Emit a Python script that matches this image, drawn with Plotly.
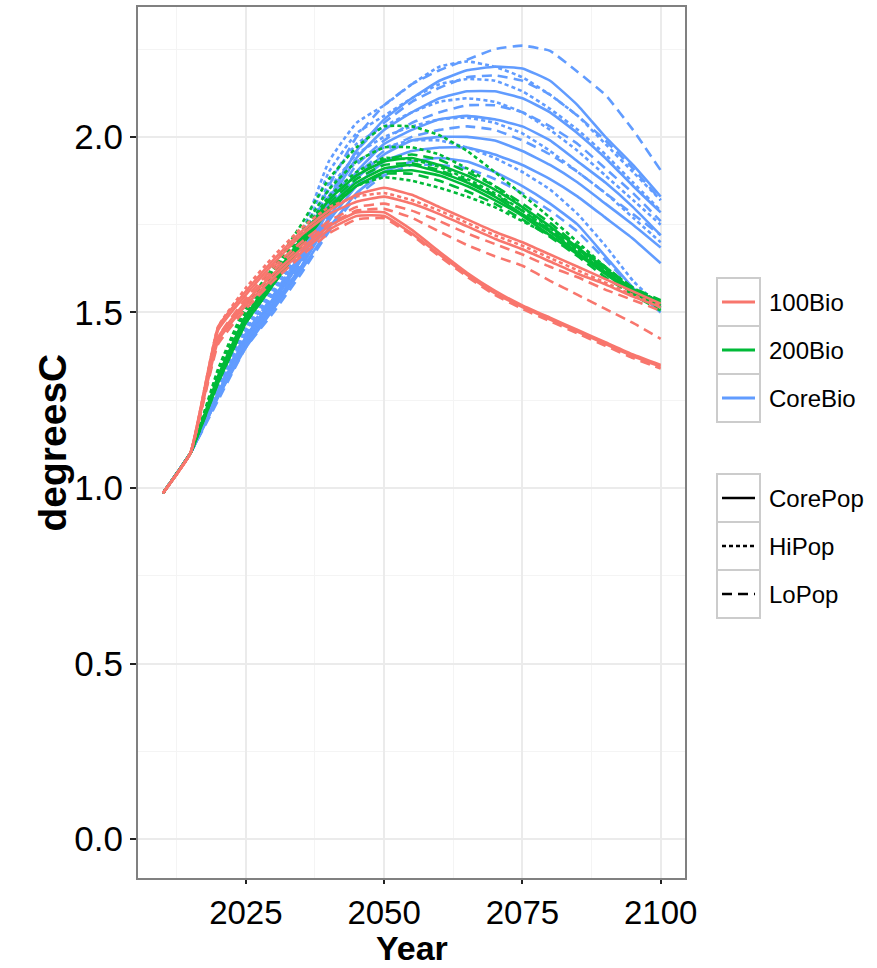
import plotly.graph_objects as go

# ---------------- data ----------------
YEARS = [2010, 2015, 2020, 2025, 2030, 2035, 2040, 2045, 2050, 2055,
         2060, 2065, 2070, 2075, 2080, 2085, 2090, 2095, 2100]

# 100Bio
R_core_a = [0.985, 1.10, 1.42, 1.52, 1.60, 1.67, 1.735, 1.775, 1.775, 1.725, 1.665, 1.607, 1.555, 1.515, 1.48, 1.445, 1.41, 1.375, 1.345]
R_core_b = [0.985, 1.10, 1.43, 1.53, 1.61, 1.68, 1.745, 1.785, 1.785, 1.735, 1.673, 1.613, 1.562, 1.52, 1.485, 1.45, 1.415, 1.38, 1.35]
R_lo_a   = [0.985, 1.10, 1.41, 1.51, 1.59, 1.66, 1.725, 1.765, 1.768, 1.72, 1.66, 1.602, 1.55, 1.51, 1.475, 1.44, 1.405, 1.37, 1.34]
R_core_c = [0.985, 1.10, 1.46, 1.56, 1.65, 1.73, 1.79, 1.835, 1.855, 1.835, 1.80, 1.765, 1.73, 1.70, 1.665, 1.63, 1.595, 1.56, 1.525]
R_core_d = [0.985, 1.10, 1.45, 1.55, 1.64, 1.72, 1.78, 1.815, 1.83, 1.81, 1.78, 1.745, 1.71, 1.68, 1.645, 1.61, 1.58, 1.545, 1.515]
R_hi_a   = [0.985, 1.10, 1.46, 1.57, 1.66, 1.74, 1.80, 1.83, 1.84, 1.82, 1.79, 1.755, 1.72, 1.69, 1.655, 1.62, 1.585, 1.55, 1.52]
R_lo_b   = [0.985, 1.10, 1.43, 1.54, 1.63, 1.70, 1.76, 1.80, 1.81, 1.79, 1.76, 1.725, 1.695, 1.665, 1.63, 1.60, 1.565, 1.535, 1.505]
R_lo_c   = [0.985, 1.10, 1.42, 1.53, 1.62, 1.69, 1.75, 1.79, 1.795, 1.77, 1.73, 1.692, 1.66, 1.633, 1.59, 1.55, 1.51, 1.47, 1.425]

# 200Bio
G_hi_a   = [0.985, 1.10, 1.34, 1.52, 1.63, 1.75, 1.88, 1.97, 2.03, 2.03, 2.005, 1.96, 1.90, 1.835, 1.77, 1.70, 1.63, 1.57, 1.53]
G_hi_b   = [0.985, 1.10, 1.33, 1.51, 1.62, 1.73, 1.85, 1.93, 1.97, 1.97, 1.95, 1.91, 1.86, 1.80, 1.74, 1.68, 1.62, 1.565, 1.52]
G_hi_c   = [0.985, 1.10, 1.32, 1.49, 1.60, 1.71, 1.80, 1.86, 1.885, 1.875, 1.855, 1.83, 1.80, 1.76, 1.72, 1.67, 1.61, 1.56, 1.51]
G_hi_d   = [0.985, 1.10, 1.33, 1.50, 1.61, 1.72, 1.83, 1.90, 1.94, 1.935, 1.915, 1.88, 1.84, 1.79, 1.73, 1.675, 1.615, 1.56, 1.515]
G_core_a = [0.985, 1.10, 1.31, 1.48, 1.59, 1.70, 1.80, 1.87, 1.91, 1.92, 1.90, 1.87, 1.83, 1.78, 1.73, 1.67, 1.615, 1.56, 1.525]
G_core_b = [0.985, 1.10, 1.30, 1.47, 1.58, 1.69, 1.79, 1.86, 1.90, 1.905, 1.89, 1.86, 1.82, 1.775, 1.72, 1.665, 1.61, 1.555, 1.52]
G_core_c = [0.985, 1.10, 1.32, 1.49, 1.60, 1.71, 1.82, 1.89, 1.93, 1.94, 1.92, 1.89, 1.85, 1.80, 1.745, 1.685, 1.625, 1.565, 1.53]
G_lo_a   = [0.985, 1.10, 1.30, 1.47, 1.58, 1.69, 1.79, 1.86, 1.895, 1.895, 1.875, 1.845, 1.81, 1.765, 1.715, 1.66, 1.60, 1.55, 1.505]
G_lo_b   = [0.985, 1.10, 1.31, 1.48, 1.59, 1.70, 1.81, 1.88, 1.92, 1.925, 1.905, 1.875, 1.835, 1.79, 1.735, 1.68, 1.62, 1.565, 1.525]
G_lo_c   = [0.985, 1.10, 1.31, 1.49, 1.60, 1.71, 1.82, 1.89, 1.935, 1.95, 1.935, 1.90, 1.86, 1.81, 1.755, 1.69, 1.63, 1.57, 1.535]

# CoreBio
B_lo_a   = [0.985, 1.10, 1.28, 1.44, 1.55, 1.67, 1.86, 2.00, 2.09, 2.15, 2.19, 2.22, 2.25, 2.26, 2.245, 2.185, 2.12, 2.02, 1.905]
B_core_a = [0.985, 1.10, 1.27, 1.43, 1.54, 1.66, 1.82, 1.96, 2.05, 2.11, 2.16, 2.19, 2.20, 2.195, 2.16, 2.09, 2.00, 1.92, 1.83]
B_hi_a   = [0.985, 1.10, 1.30, 1.47, 1.58, 1.72, 1.93, 2.04, 2.09, 2.15, 2.20, 2.215, 2.20, 2.17, 2.12, 2.06, 1.98, 1.90, 1.82]
B_hi_b   = [0.985, 1.10, 1.30, 1.46, 1.57, 1.70, 1.90, 2.01, 2.06, 2.11, 2.15, 2.165, 2.16, 2.13, 2.08, 2.02, 1.95, 1.87, 1.79]
B_hi_c   = [0.985, 1.10, 1.29, 1.45, 1.56, 1.68, 1.87, 1.98, 2.03, 2.07, 2.10, 2.11, 2.10, 2.07, 2.02, 1.96, 1.89, 1.82, 1.75]
B_hi_d   = [0.985, 1.10, 1.29, 1.45, 1.56, 1.68, 1.85, 1.95, 2.00, 2.03, 2.05, 2.055, 2.04, 2.01, 1.96, 1.90, 1.84, 1.77, 1.70]
B_hi_e   = [0.985, 1.10, 1.28, 1.44, 1.55, 1.67, 1.83, 1.93, 1.97, 1.99, 1.99, 1.97, 1.94, 1.90, 1.85, 1.78, 1.69, 1.59, 1.515]
B_lo_b   = [0.985, 1.10, 1.27, 1.43, 1.54, 1.66, 1.83, 1.96, 2.04, 2.10, 2.14, 2.17, 2.175, 2.16, 2.12, 2.06, 1.99, 1.91, 1.82]
B_lo_c   = [0.985, 1.10, 1.27, 1.42, 1.53, 1.65, 1.80, 1.92, 1.99, 2.04, 2.07, 2.09, 2.09, 2.07, 2.03, 1.98, 1.91, 1.84, 1.76]
B_lo_d   = [0.985, 1.10, 1.26, 1.42, 1.52, 1.64, 1.78, 1.89, 1.96, 2.00, 2.02, 2.03, 2.02, 1.99, 1.95, 1.90, 1.84, 1.78, 1.72]
B_lo_e   = [0.985, 1.10, 1.25, 1.40, 1.50, 1.61, 1.73, 1.83, 1.89, 1.92, 1.92, 1.91, 1.88, 1.84, 1.79, 1.73, 1.65, 1.57, 1.51]
B_core_b = [0.985, 1.10, 1.27, 1.43, 1.54, 1.66, 1.81, 1.94, 2.02, 2.07, 2.11, 2.13, 2.13, 2.11, 2.07, 2.01, 1.94, 1.86, 1.785]
B_core_c = [0.985, 1.10, 1.27, 1.42, 1.53, 1.65, 1.79, 1.90, 1.98, 2.02, 2.05, 2.06, 2.05, 2.03, 1.99, 1.93, 1.87, 1.80, 1.72]
B_core_d = [0.985, 1.10, 1.26, 1.41, 1.52, 1.63, 1.77, 1.88, 1.95, 1.99, 2.00, 2.00, 1.99, 1.96, 1.92, 1.87, 1.81, 1.75, 1.685]
B_core_e = [0.985, 1.10, 1.26, 1.41, 1.52, 1.63, 1.76, 1.86, 1.93, 1.96, 1.97, 1.97, 1.95, 1.92, 1.88, 1.83, 1.77, 1.71, 1.64]
B_core_f = [0.985, 1.10, 1.26, 1.40, 1.51, 1.62, 1.74, 1.84, 1.90, 1.93, 1.94, 1.93, 1.90, 1.86, 1.81, 1.75, 1.66, 1.57, 1.50]

BIO_LABELS = ["100Bio", "200Bio", "CoreBio"]
POP_LABELS = ["CorePop", "HiPop", "LoPop"]
Y_TICKS = [0.0, 0.5, 1.0, 1.5, 2.0]
X_TICKS = [2025, 2050, 2075, 2100]

SERIES = [
    ("CoreBio", "CorePop", B_core_a), ("CoreBio", "CorePop", B_core_b), ("CoreBio", "CorePop", B_core_c),
    ("CoreBio", "CorePop", B_core_d), ("CoreBio", "CorePop", B_core_e), ("CoreBio", "CorePop", B_core_f),
    ("CoreBio", "HiPop", B_hi_a), ("CoreBio", "HiPop", B_hi_b), ("CoreBio", "HiPop", B_hi_c),
    ("CoreBio", "HiPop", B_hi_d), ("CoreBio", "HiPop", B_hi_e),
    ("CoreBio", "LoPop", B_lo_a), ("CoreBio", "LoPop", B_lo_b), ("CoreBio", "LoPop", B_lo_c),
    ("CoreBio", "LoPop", B_lo_d), ("CoreBio", "LoPop", B_lo_e),
    ("200Bio", "CorePop", G_core_a), ("200Bio", "CorePop", G_core_b), ("200Bio", "CorePop", G_core_c),
    ("200Bio", "HiPop", G_hi_a), ("200Bio", "HiPop", G_hi_b), ("200Bio", "HiPop", G_hi_c), ("200Bio", "HiPop", G_hi_d),
    ("200Bio", "LoPop", G_lo_a), ("200Bio", "LoPop", G_lo_b), ("200Bio", "LoPop", G_lo_c),
    ("100Bio", "CorePop", R_core_a), ("100Bio", "CorePop", R_core_b), ("100Bio", "CorePop", R_core_c),
    ("100Bio", "CorePop", R_core_d), ("100Bio", "HiPop", R_hi_a),
    ("100Bio", "LoPop", R_lo_a), ("100Bio", "LoPop", R_lo_b), ("100Bio", "LoPop", R_lo_c),
]

# ---------------- styles ----------------
COLORS = {"100Bio": "#F8766D", "200Bio": "#00BA38", "CoreBio": "#619CFF"}
DASHES = {"CorePop": "solid", "HiPop": "4px,3px", "LoPop": "10px,6px"}
FONT = "Liberation Sans, Arial, sans-serif"

W, H = 877, 968
L, R, T, B = 138, 685, 7, 878  # panel pixel edges


def pxx(px):
    return (px - L) / (R - L)


def pxy(py):
    return (B - py) / (B - T)


fig = go.Figure()
for bio, pop, vals in SERIES:
    fig.add_trace(go.Scatter(
        x=YEARS, y=vals, mode="lines", showlegend=False, hoverinfo="skip",
        line=dict(color=COLORS[bio], width=2.6, dash=DASHES[pop], shape="spline", smoothing=0.35),
    ))

shapes = []
annotations = []

KEY_X0, KEY_X1, KEY_H = 717, 760, 48
# legend 1 (colour)
for i, lab in enumerate(BIO_LABELS):
    top = 278 + i * KEY_H
    cy = top + KEY_H / 2
    shapes.append(dict(type="rect", xref="paper", yref="paper",
                       x0=pxx(KEY_X0), x1=pxx(KEY_X1), y0=pxy(top + KEY_H), y1=pxy(top),
                       line=dict(color="#cccccc", width=2), fillcolor="white", layer="above"))
    shapes.append(dict(type="line", xref="paper", yref="paper",
                       x0=pxx(722), x1=pxx(755), y0=pxy(cy), y1=pxy(cy),
                       line=dict(color=COLORS[lab], width=3), layer="above"))
    annotations.append(dict(xref="paper", yref="paper", x=pxx(767), y=pxy(cy),
                            text=lab, showarrow=False, xanchor="left", yanchor="middle",
                            font=dict(family=FONT, size=24, color="black")))

# legend 2 (linetype)
for i, lab in enumerate(POP_LABELS):
    top = 474 + i * KEY_H
    cy = top + KEY_H / 2
    shapes.append(dict(type="rect", xref="paper", yref="paper",
                       x0=pxx(KEY_X0), x1=pxx(KEY_X1), y0=pxy(top + KEY_H), y1=pxy(top),
                       line=dict(color="#cccccc", width=2), fillcolor="white", layer="above"))
    shapes.append(dict(type="line", xref="paper", yref="paper",
                       x0=pxx(722), x1=pxx(755), y0=pxy(cy), y1=pxy(cy),
                       line=dict(color="black", width=2.6, dash=DASHES[lab]), layer="above"))
    annotations.append(dict(xref="paper", yref="paper", x=pxx(767), y=pxy(cy),
                            text=lab, showarrow=False, xanchor="left", yanchor="middle",
                            font=dict(family=FONT, size=24, color="black")))

# axis titles
annotations.append(dict(xref="paper", yref="paper", x=0.5, y=pxy(968),
                        text="<b>Year</b>", showarrow=False, xanchor="center", yanchor="bottom",
                        font=dict(family=FONT, size=34, color="black"),
                        borderpad=0))
annotations.append(dict(xref="paper", yref="paper", x=pxx(52), y=0.5,
                        text="<b>degreesC</b>", showarrow=False, textangle=-90,
                        xanchor="center", yanchor="middle",
                        font=dict(family=FONT, size=39, color="black")))

fig.update_layout(
    width=W, height=H,
    margin=dict(l=L, r=W - R, t=T, b=H - B, autoexpand=False),
    paper_bgcolor="white", plot_bgcolor="white",
    showlegend=False,
    shapes=shapes, annotations=annotations,
    font=dict(family=FONT, color="black"),
)

fig.update_xaxes(
    range=[2005.5, 2104.4], tickvals=X_TICKS, ticktext=[str(v) for v in X_TICKS],
    showgrid=True, gridcolor="#ebebeb", gridwidth=1.6,
    minor=dict(showgrid=True, gridcolor="#f4f4f4", gridwidth=1, tickvals=[2012.5, 2037.5, 2062.5, 2087.5]),
    showline=True, mirror=True, linecolor="#808080", linewidth=2,
    ticks="outside", ticklen=4, tickwidth=2, tickcolor="#222",
    tickfont=dict(family=FONT, size=33, color="black"), zeroline=False,
)
fig.update_yaxes(
    range=[-0.111, 2.370], tickvals=Y_TICKS, ticktext=["%.1f" % v for v in Y_TICKS],
    showgrid=True, gridcolor="#ebebeb", gridwidth=1.6,
    minor=dict(showgrid=True, gridcolor="#f4f4f4", gridwidth=1, tickvals=[0.25, 0.75, 1.25, 1.75, 2.25]),
    showline=True, mirror=True, linecolor="#808080", linewidth=2,
    ticks="outside", ticklen=6, tickwidth=2, tickcolor="#222",
    tickfont=dict(family=FONT, size=35, color="black"), zeroline=False,
)

fig.write_html("out.html")
